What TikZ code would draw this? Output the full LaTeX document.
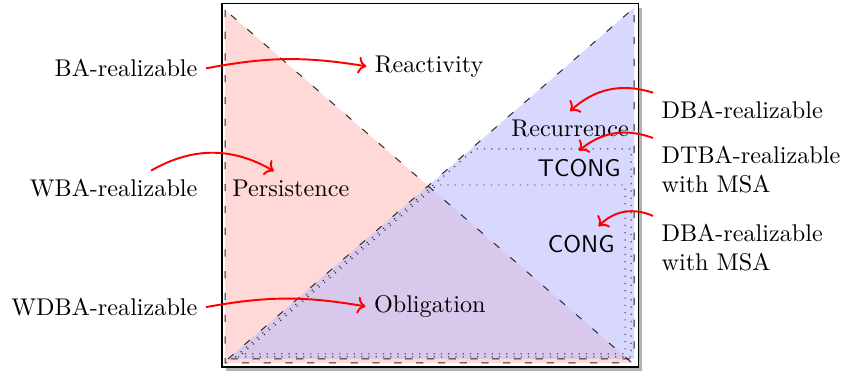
\documentclass[tikz,border=0pt]{standalone}
\usepackage{amsmath}
\usepackage{tikz}
\usetikzlibrary{arrows.meta, positioning}
\usepackage{xcolor}
\definecolor{persred}{RGB}{255,216,216}
\definecolor{recblue}{RGB}{216,216,255}
\definecolor{oblpurple}{RGB}{216,200,235}

\begin{document}
\begin{tikzpicture}[
        arr/.style={->, thick, red},
        border/.style={loosely dashed, black!85},
        tc/.style={dash pattern=on 0.5pt off 2.5pt, black!85},
    ]
        \useasboundingbox (-3.227,-0.058) rectangle (9.041,5.334);

        % Draw frame with shadow
        \fill[black!30] (0.058,-0.058) rectangle (6.108,5.222);
        \draw[semithick, fill=white] (0,0) rectangle (6.05,5.28);

        % Corners of the two triangles
        \coordinate (rtl) at (0.044,5.19);
        \coordinate (rbl) at (0.044,0.058);
        \coordinate (rbr) at (5.96,0.058);
        \coordinate (bbl) at (0.087,0.116);
        \coordinate (bbr) at (5.99,0.116);
        \coordinate (btr) at (5.99,5.22);

        % Shade the regions
        \fill[persred] (rtl) -- (rbl) -- (rbr) -- cycle;
        \fill[recblue] (bbl) -- (btr) -- (bbr) -- cycle;
        \begin{scope}
            \clip (rtl) -- (rbl) -- (rbr) -- cycle;
            \fill[oblpurple] (bbl) -- (btr) -- (bbr) -- cycle;
        \end{scope}
        \draw[border] (rtl) -- (rbl) -- (rbr) -- cycle;
        \draw[border] (bbl) -- (btr) -- (bbr) -- cycle;

        % TCONG and CONG
        \draw[tc] (0.19,0.145) -- (3.677,3.169) -- (5.945,3.169) -- (5.945,0.145) -- cycle;
        \draw[tc] (0.29,0.19) -- (3.125,2.645) -- (5.858,2.645) -- (5.858,0.19) -- cycle;

        \node (react) at (3.01,4.37) {Reactivity};
        \node (pers) at (1.0,2.60) {Persistence};
        \node (oblig) at (3.02,0.88) {Obligation};
        \node (recur) at (5.06,3.47) {Recurrence};
        \node[font=\sffamily] (tcong) at (5.19,2.89) {TCONG};
        \node[font=\sffamily] (cong) at (5.22,1.79) {CONG};

        % Add labels on both sides
        \node[anchor=east] (ba) at (-0.233,4.34) {BA-realizable};
        \node[anchor=east] (wba) at (-0.233,2.60) {WBA-realizable};
        \node[anchor=east] (wdba) at (-0.233,0.87) {WDBA-realizable};
        \node[anchor=west] (dba) at (6.265,3.735) {DBA-realizable};
        \node[anchor=west, align=left] (dtba) at (6.265,2.863) {DTBA-realizable\\with MSA};
        \node[anchor=west, align=left] (dbamsa) at (6.265,1.73) {DBA-realizable\\with MSA};

        \draw[arr] (ba.east) to[bend left=10] (react.west);
        \draw[arr] (wba.25) to[bend left=30] (pers.135);
        \draw[arr] (wdba.east) to[bend left=10] (oblig.west);
        \draw[arr] (dba.north west) to[bend right=30] (recur.north);
        \draw[arr] (dtba.north west) to[bend right=30] (tcong.north);
        \draw[arr] (dbamsa.north west) to[bend right=35] (cong.45);

    \end{tikzpicture}
\end{document}
